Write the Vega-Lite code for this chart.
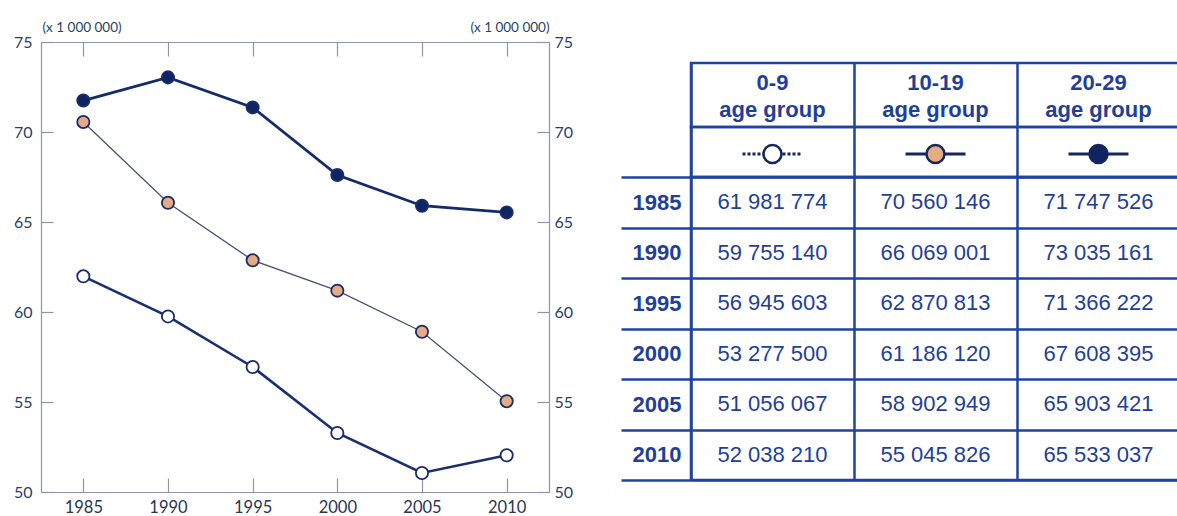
{
  "$schema": "https://vega.github.io/schema/vega-lite/v6.json",
  "autosize": {"type": "pad"},
  "padding": {"left": 13, "top": 20, "right": 0, "bottom": 0},
  "background": "white",
  "spacing": 142,
  "bounds": "flush",
  "config": {
    "view": {"stroke": null},
    "locale": {"number": {"decimal": ".", "thousands": " ", "grouping": [3], "currency": ["", ""]}},
    "axis": {"labelFont": "Lato", "titleFont": "Lato"}
  },
  "datasets": {
    "pop": [
      {"year": 1985, "group": "0-9", "value": 61981774},
      {"year": 1990, "group": "0-9", "value": 59755140},
      {"year": 1995, "group": "0-9", "value": 56945603},
      {"year": 2000, "group": "0-9", "value": 53277500},
      {"year": 2005, "group": "0-9", "value": 51056067},
      {"year": 2010, "group": "0-9", "value": 52038210},
      {"year": 1985, "group": "10-19", "value": 70560146},
      {"year": 1990, "group": "10-19", "value": 66069001},
      {"year": 1995, "group": "10-19", "value": 62870813},
      {"year": 2000, "group": "10-19", "value": 61186120},
      {"year": 2005, "group": "10-19", "value": 58902949},
      {"year": 2010, "group": "10-19", "value": 55045826},
      {"year": 1985, "group": "20-29", "value": 71747526},
      {"year": 1990, "group": "20-29", "value": 73035161},
      {"year": 1995, "group": "20-29", "value": 71366222},
      {"year": 2000, "group": "20-29", "value": 67608395},
      {"year": 2005, "group": "20-29", "value": 65903421},
      {"year": 2010, "group": "20-29", "value": 65533037}
    ],
    "groups": [
      {"group": "0-9", "title": "0-9\nage group"},
      {"group": "10-19", "title": "10-19\nage group"},
      {"group": "20-29", "title": "20-29\nage group"}
    ]
  },
  "hconcat": [
    {
      "width": 508,
      "height": 450,
      "data": {"name": "pop"},
      "layer": [
        {
          "mark": {"type": "line"},
          "encoding": {
            "x": {"field": "year", "type": "quantitative", "scale": {"domain": [1982.5, 2012.5], "nice": false, "zero": false},
              "axis": {"orient": "bottom", "values": [1985, 1990, 1995, 2000, 2005, 2010], "format": "d", "title": null, "grid": false,
                "domainColor": "#8e94ad", "domainWidth": 1.2, "tickColor": "#8e94ad", "tickWidth": 1.2, "tickSize": -14,
                "labelFontSize": 16.5, "labelColor": "#2a3550", "labelPadding": 21}},
            "y": {"field": "value", "type": "quantitative", "scale": {"domain": [50000000, 75000000], "nice": false, "zero": false},
              "axis": {"orient": "left", "values": [50000000, 55000000, 60000000, 65000000, 70000000, 75000000], "labelExpr": "datum.value / 1000000",
                "grid": false, "domainColor": "#8e94ad", "domainWidth": 1.2, "tickColor": "#8e94ad", "tickWidth": 1.2, "tickSize": -12,
                "labelFontSize": 16, "labelColor": "#2a3f66", "labelPadding": 21,
                "title": "(x 1 000 000)", "titleAngle": 0, "titleAlign": "left", "titleBaseline": "alphabetic", "titleX": 1, "titleY": -11,
                "titleFontSize": 13.5, "titleFontWeight": "normal", "titleColor": "#2a3f66"}},
            "color": {"field": "group", "type": "nominal", "scale": {"domain": ["0-9", "10-19", "20-29"], "range": ["#1a2f70", "#4a5075", "#142b6b"]}, "legend": null},
            "strokeWidth": {"field": "group", "type": "nominal", "scale": {"type": "ordinal", "domain": ["0-9", "10-19", "20-29"], "range": [2.6, 1.3, 2.8]}, "legend": null}
          }
        },
        {
          "mark": {"type": "point", "shape": "circle", "filled": true, "size": 150, "stroke": "#1a2c6b", "strokeWidth": 1.8, "opacity": 1},
          "encoding": {
            "x": {"field": "year", "type": "quantitative", "scale": {"domain": [1982.5, 2012.5], "nice": false, "zero": false},
              "axis": {"orient": "top", "values": [1985, 1990, 1995, 2000, 2005, 2010], "labels": false, "title": null, "grid": false,
                "domainColor": "#8e94ad", "domainWidth": 1.2, "tickColor": "#8e94ad", "tickWidth": 1.2, "tickSize": -14}},
            "y": {"field": "value", "type": "quantitative", "scale": {"domain": [50000000, 75000000], "nice": false, "zero": false},
              "axis": {"orient": "right", "values": [50000000, 55000000, 60000000, 65000000, 70000000, 75000000], "labelExpr": "datum.value / 1000000",
                "grid": false, "domainColor": "#8e94ad", "domainWidth": 1.2, "tickColor": "#8e94ad", "tickWidth": 1.2, "tickSize": -12,
                "labelFontSize": 16, "labelColor": "#2a3f66", "labelPadding": 17,
                "title": "(x 1 000 000)", "titleAngle": 0, "titleAlign": "right", "titleBaseline": "alphabetic", "titleX": 0, "titleY": -11,
                "titleFontSize": 13.5, "titleFontWeight": "normal", "titleColor": "#2a3f66"}},
            "fill": {"field": "group", "type": "nominal", "scale": {"domain": ["0-9", "10-19", "20-29"], "range": ["#ffffff", "#e4ab84", "#0f2461"]}, "legend": null}
          }
        }
      ],
      "resolve": {"axis": {"x": "independent", "y": "independent"}}
    },
    {
      "spacing": 0,
      "bounds": "flush",
      "vconcat": [
        {
          "width": 489,
          "height": 21,
          "data": {"values": [{"blank": ""}]},
          "mark": {"type": "text"},
          "encoding": {"text": {"field": "blank"}}
        },
        {
          "width": 489,
          "height": 64,
          "data": {"name": "groups"},
          "view": {"stroke": "#1f43a0", "strokeWidth": 2.5},
          "mark": {"type": "text", "lineBreak": "\n", "font": "Liberation Sans", "fontWeight": "bold", "fontSize": 22, "lineHeight": 27, "baseline": "middle", "dy": -12, "color": "#1f3f99"},
          "encoding": {
            "x": {"field": "group", "type": "nominal", "sort": null, "scale": {"type": "band", "paddingInner": 0, "paddingOuter": 0},
              "axis": {"orient": "top", "tickBand": "extent", "grid": true, "gridColor": "#1f43a0", "gridWidth": 2.5, "gridOpacity": 1, "labels": false, "ticks": false, "domain": false, "title": null}},
            "text": {"field": "title"}
          }
        },
        {
          "width": 489,
          "height": 50,
          "data": {"name": "groups"},
          "view": {"stroke": "#1f43a0", "strokeWidth": 2.5},
          "encoding": {
            "x": {"field": "group", "type": "nominal", "sort": null, "scale": {"type": "band", "paddingInner": 0, "paddingOuter": 0},
              "axis": {"orient": "top", "tickBand": "extent", "grid": true, "gridColor": "#1f43a0", "gridWidth": 2.5, "gridOpacity": 1, "labels": false, "ticks": false, "domain": false, "title": null}}
          },
          "layer": [
            {
              "mark": {"type": "point", "shape": "M-1,0L1,0", "size": 3600, "filled": false, "stroke": "#14265e", "strokeWidth": 3, "opacity": 1, "strokeCap": "butt", "yOffset": 2},
              "encoding": {
                "strokeDash": {"field": "group", "type": "nominal", "scale": {"domain": ["0-9", "10-19", "20-29"], "range": [[3, 2], [1, 0], [1, 0]]}, "legend": null}
              }
            },
            {
              "mark": {"type": "point", "shape": "circle", "filled": true, "size": 324, "stroke": "#14265e", "strokeWidth": 2.5, "opacity": 1, "yOffset": 2},
              "encoding": {
                "fill": {"field": "group", "type": "nominal", "scale": {"domain": ["0-9", "10-19", "20-29"], "range": ["#ffffff", "#e09a78", "#0c1f5c"]}, "legend": null}
              }
            }
          ]
        },
        {
          "width": 489,
          "height": 303,
          "data": {"name": "pop"},
          "view": {"stroke": "#1f43a0", "strokeWidth": 2.5},
          "mark": {"type": "text", "font": "Liberation Sans", "fontSize": 22, "baseline": "middle", "color": "#1f3f99"},
          "encoding": {
            "x": {"field": "group", "type": "nominal", "sort": null, "scale": {"type": "band", "paddingInner": 0, "paddingOuter": 0},
              "axis": {"orient": "top", "tickBand": "extent", "grid": true, "gridColor": "#1f43a0", "gridWidth": 2.5, "gridOpacity": 1, "labels": false, "ticks": false, "domain": false, "title": null}},
            "y": {"field": "year", "type": "ordinal", "scale": {"type": "band", "paddingInner": 0, "paddingOuter": 0},
              "axis": {"orient": "left", "tickBand": "extent", "grid": true, "gridColor": "#1f43a0", "gridWidth": 2.5, "gridOpacity": 1,
                "ticks": true, "tickSize": 70, "tickColor": "#1f43a0", "tickWidth": 2.5, "domain": false, "title": null,
                "labelFont": "Liberation Sans", "labelFontWeight": "bold", "labelFontSize": 22, "labelColor": "#1f3f99", "labelPadding": -60}},
            "text": {"field": "value", "type": "quantitative", "format": ","}
          }
        }
      ]
    }
  ]
}
